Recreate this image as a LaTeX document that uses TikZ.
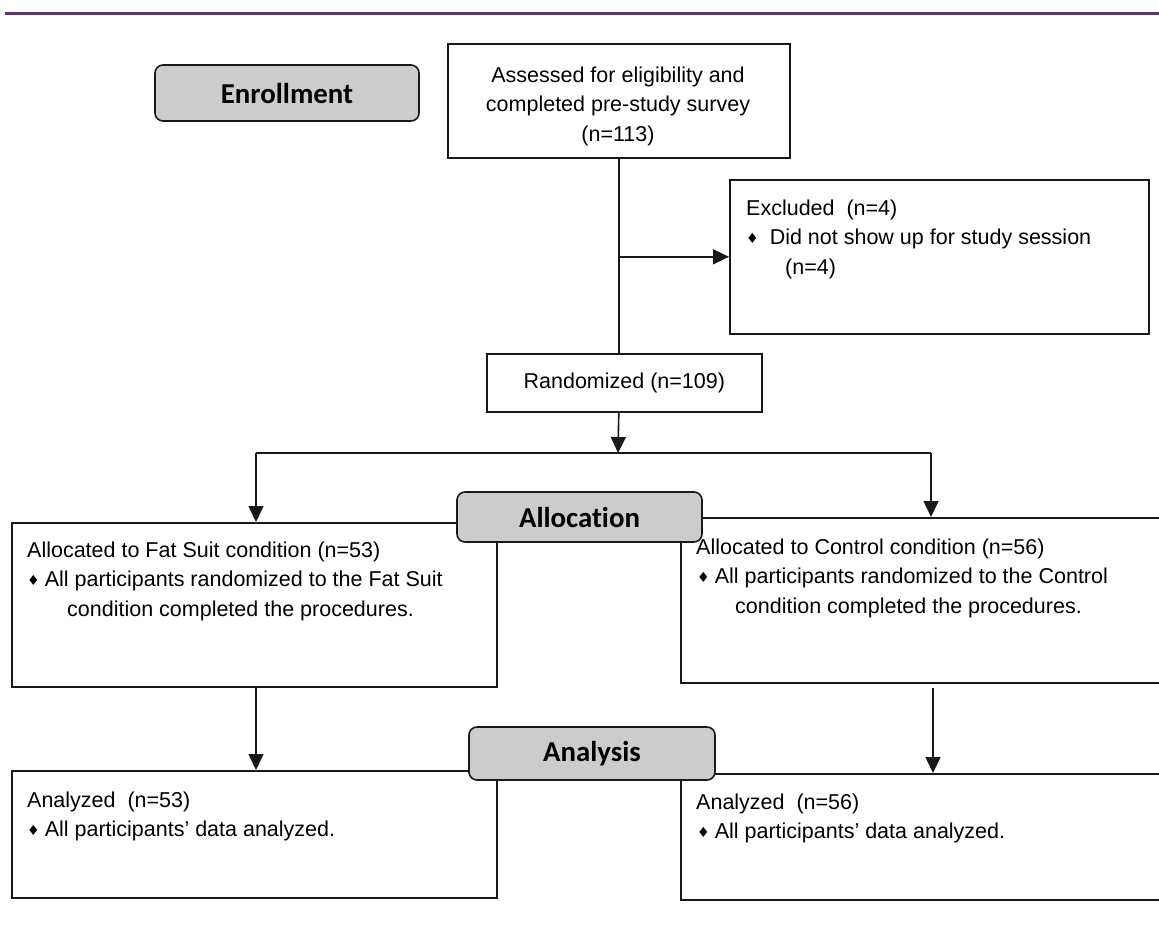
\documentclass[tikz,border=0pt]{standalone}
\usepackage{fontspec}
\setmainfont{Liberation Sans}
\newfontfamily\hdfont[Ligatures={NoCommon,NoDiscretionary,NoContextual}]{Carlito}
\newfontfamily\bulletfont{DejaVu Sans}
\usetikzlibrary{arrows.meta}
\definecolor{topline}{RGB}{94,55,110}
\definecolor{hdgray}{RGB}{204,204,204}
\definecolor{ink}{RGB}{25,25,25}
\newcommand{\bul}{{\bulletfont\fontsize{14}{14}\selectfont\raisebox{1pt}{♦}}}
\begin{document}
\begin{tikzpicture}[x=1pt,y=-1pt,
  box/.style={draw=ink, line width=1.6pt, inner sep=0pt, anchor=north west},
  hdbox/.style={draw=ink, fill=hdgray, line width=1.6pt, rounded corners=8pt, inner sep=0pt,
    font=\hdfont\bfseries\fontsize{28.8}{30}\selectfont},
  txt/.style={inner sep=0pt, anchor=north west, align=left, font=\fontsize{21.5}{29.5}\selectfont},
  ln/.style={draw=ink, line width=1.6pt},
  arr/.style={ln, -{Triangle[length=16pt,width=15pt]}}]
\useasboundingbox (0,0) rectangle (1159,924);
\fill[white] (0,0) rectangle (1159,924);
\clip (0,0) rectangle (1159,924);

\draw[topline, line width=3pt] (5,13.5) -- (1159,13.5);

% boxes
\node[box, minimum width=342pt, minimum height=114pt] (assess) at (447,43) {};
\node[box, minimum width=419pt, minimum height=154pt] (excl) at (729,179) {};
\node[box, minimum width=275pt, minimum height=58pt, font=\fontsize{21.5}{29.5}\selectfont] (rand) at (486,353) {Randomized (n=109)};
\node[box, minimum width=485pt, minimum height=164pt] (allocL) at (11,522) {};
\node[box, minimum width=495pt, minimum height=165pt] (allocR) at (680,517) {};
\node[box, minimum width=485pt, minimum height=127pt] (anaL) at (11,770) {};
\node[box, minimum width=495pt, minimum height=126pt] (anaR) at (680,773) {};

% texts
\node[txt, anchor=north, align=center] (assessT) at (618,61.4)
  {\strut Assessed for eligibility and\\completed pre-study survey\\(n=113)};
\node[txt] (exclT) at (746,194.4)
  {\strut Excluded\ \ (n=4)\\\hspace*{0pt}\bul\hspace{11pt}Did not show up for study session\\\hspace*{39pt}(n=4)};
\node[txt] (allocLT) at (27,536.4)
  {\strut Allocated to Fat Suit condition (n=53)\\\hspace*{0pt}\bul\hspace{5pt}All participants randomized to the Fat Suit\\\hspace*{40pt}condition completed the procedures.};
\node[txt] (allocRT) at (696,533.4)
  {\strut Allocated to Control condition (n=56)\\\hspace*{1pt}\bul\hspace{5pt}All participants randomized to the Control\\\hspace*{39pt}condition completed the procedures.};
\node[txt] (anaLT) at (27,786.4)
  {\strut Analyzed\ \ (n=53)\\\hspace*{0pt}\bul\hspace{5pt}All participants' data analyzed.};
\node[txt] (anaRT) at (696,788.4)
  {\strut Analyzed\ \ (n=56)\\\hspace*{1pt}\bul\hspace{5pt}All participants' data analyzed.};

% connectors
\coordinate (branch) at (618,453);
\coordinate (bl) at (256,453);
\coordinate (br) at (931,453);
\coordinate (rs) at (933,688);
\draw[ln] (assess.south) -- (assess.south |- rand.north);
\draw[arr] (assess.south |- excl.west) -- (excl.west);
\draw[arr] (assess.south |- rand.south) -- (branch);
\draw[ln] (bl) -- (br);
\draw[arr] (bl) -- (bl |- allocL.north);
\draw[arr] (br) -- (br |- allocR.north);
\draw[arr] (bl |- allocL.south) -- (bl |- anaL.north);
\draw[arr] (rs) -- (rs |- anaR.north);

% stage headers
\node[hdbox, minimum width=264pt, minimum height=56pt] (enroll) at (287,93) {Enrollment};
\node[hdbox, minimum width=245pt, minimum height=50pt] (allocH) at (579.5,517) {Allocation};
\node[hdbox, minimum width=246pt, minimum height=53pt] (anaH) at (592,753.5) {Analysis};
\end{tikzpicture}
\end{document}
